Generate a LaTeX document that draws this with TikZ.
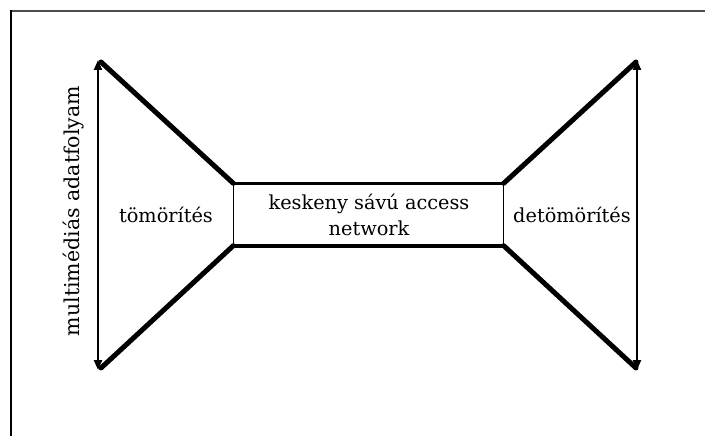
\documentclass[tikz,border=0pt]{standalone}
\usepackage{fontspec}
\setmainfont{DejaVu Serif}
\usetikzlibrary{arrows.meta}
\begin{document}
\begin{tikzpicture}[x=1pt,y=-1pt,
  thickline/.style={line width=5pt,line cap=round},
  edgeline/.style={line width=3.6pt},
  sideline/.style={line width=1.4pt},
  flow/.style={line width=2.2pt,{Triangle[length=10pt,width=8pt]}-{Triangle[length=10pt,width=8pt]}},
  lbl/.style={font=\fontsize{19.3}{25.5}\selectfont,inner sep=0pt,align=center}]
\useasboundingbox (0,0) rectangle (705,436);
\draw[line width=2pt,black!70] (11,11) -- (706,11);
\draw[line width=2.4pt] (11,10) -- (11,437);
% box
\node[minimum width=270pt,minimum height=62pt,inner sep=0pt] (net) at (368.5,214.5) {};
\node[lbl] (nettext) at (369,215) {keskeny sávú access\\network};
\draw[edgeline] ([xshift=-0.7pt]net.north west) -- ([xshift=0.7pt]net.north east);
\draw[edgeline] ([xshift=-0.7pt]net.south west) -- ([xshift=0.7pt]net.south east);
\draw[sideline] (net.north west) -- (net.south west);
\draw[sideline] (net.north east) -- (net.south east);
% corner points
\coordinate (lt) at (101,62);
\coordinate (lb) at (101,368);
\coordinate (rt) at (636,62);
\coordinate (rb) at (636,368);
\draw[thickline] (lt) -- (net.north west);
\draw[thickline] (lb) -- (net.south west);
\draw[thickline] (rt) -- (net.north east);
\draw[thickline] (rb) -- (net.south east);
% arrows
\coordinate (la1) at (98,60);
\coordinate (la2) at (98,370);
\coordinate (ra1) at (637,60);
\coordinate (ra2) at (637,370);
\draw[flow] (la1) -- (la2);
\draw[flow] (ra1) -- (ra2);
% labels
\node[lbl] (komp) at (166,215) {tömörítés};
\node[lbl] (dekomp) at (572,215) {detömörítés};
\node[lbl,font=\fontsize{20.5}{25}\selectfont,rotate=90] (stream) at (74,211) {multimédiás adatfolyam};
\end{tikzpicture}
\end{document}
